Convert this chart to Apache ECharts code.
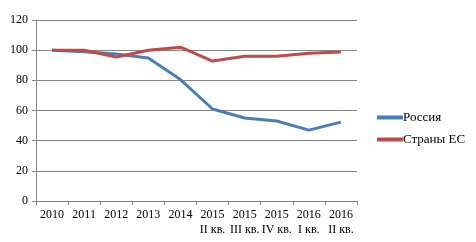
<!DOCTYPE html>
<html>
<head>
<meta charset="utf-8">
<script src="https://cdn.jsdelivr.net/npm/echarts@6/dist/echarts.min.js"></script>
<style>
    html, body { margin: 0; padding: 0; background: #fff; }
    #chart { width: 476px; height: 242px; }
</style>
</head>
<body>
<div id="chart"></div>
<script>
    // данные
    var categories = ['2010', '2011', '2012', '2013', '2014',
        '2015\nII кв.', '2015\nIII кв.', '2015\nIV кв.', '2016\nI кв.', '2016\nII кв.'];
    var russia = [100, 99, 97.5, 94.8, 80.5, 61, 55, 53, 47, 52.3];
    var eu = [100, 100, 95.5, 100, 102, 92.8, 96, 96, 98, 98.8];
    var seriesNames = ['Россия', 'Страны ЕС'];

    var font = 'Liberation Serif, Times New Roman, serif';
    var chart = echarts.init(document.getElementById('chart'));
    var option = {
        animation: false,
        grid: { left: 36, right: 119, top: 20, bottom: 41, containLabel: false },
        legend: {
            orient: 'vertical',
            left: 372,
            top: 106,
            itemWidth: 26,
            itemHeight: 4,
            itemGap: 9,
            icon: 'rect',
            textStyle: { fontFamily: font, fontSize: 13, color: '#000', padding: [0, 0, 0, -5] },
            data: seriesNames
        },
        xAxis: {
            type: 'category',
            data: categories,
            boundaryGap: true,
            axisLine: { lineStyle: { color: '#868686' } },
            axisTick: { show: true, length: 4, lineStyle: { color: '#868686' } },
            axisLabel: { interval: 0, fontFamily: font, fontSize: 12, color: '#000', lineHeight: 15, margin: 6 }
        },
        yAxis: {
            type: 'value',
            min: 0,
            max: 120,
            interval: 20,
            axisLine: { show: true, lineStyle: { color: '#868686' } },
            axisTick: { show: true, length: 4, lineStyle: { color: '#868686' } },
            splitLine: { lineStyle: { color: '#868686' } },
            axisLabel: { fontFamily: font, fontSize: 12, color: '#000', margin: 8 }
        },
        series: [{
            name: seriesNames[0],
            type: 'line',
            data: russia,
            symbol: 'none',
            lineStyle: { width: 3, color: '#4a7ebb' },
            itemStyle: { color: '#4a7ebb' }
        }, {
            name: seriesNames[1],
            type: 'line',
            data: eu,
            symbol: 'none',
            lineStyle: { width: 3, color: '#be4b48' },
            itemStyle: { color: '#be4b48' }
        }]
    };
    chart.setOption(option);
</script>
</body>
</html>
